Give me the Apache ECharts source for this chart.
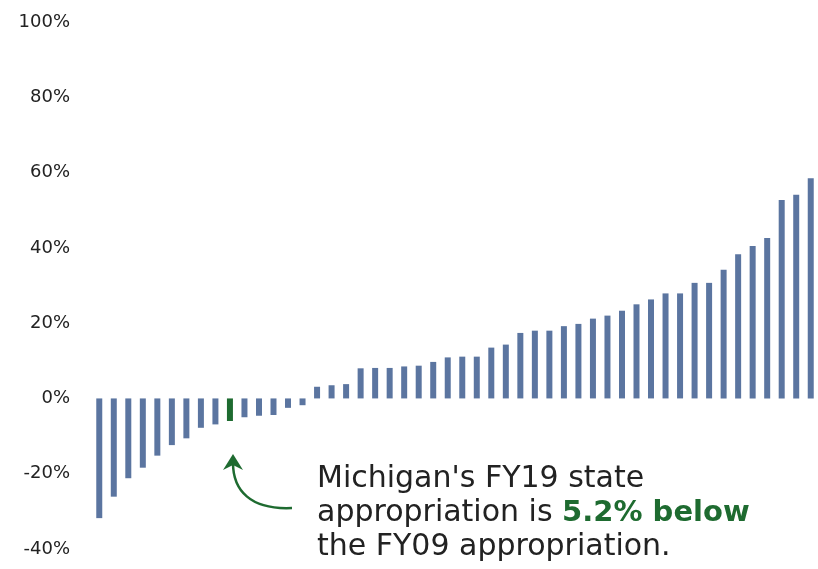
<!DOCTYPE html>
<html>
<head>
<meta charset="utf-8">
<script src="https://cdn.jsdelivr.net/npm/echarts@6/dist/echarts.min.js"></script>
<style>
  html, body { margin: 0; padding: 0; background: #fff; }
  #chart { width: 818px; height: 569px; }
</style>
</head>
<body>
<div id="chart"></div>
<script>
// change in state appropriation FY09 -> FY19, states sorted low to high
const values = [
  -31.8, -26.1, -21.2, -18.4, -15.2, -12.4, -10.6, -7.8, -6.9, -6.0,
  -5.0, -4.6, -4.4, -2.5, -1.8, 3.1, 3.5, 3.8, 8.0, 8.1,
  8.1, 8.5, 8.7, 9.7, 10.9, 11.1, 11.1, 13.5, 14.3, 17.4,
  18.0, 18.0, 19.2, 19.8, 21.2, 22.0, 23.3, 25.0, 26.3, 27.9,
  27.9, 30.7, 30.7, 34.2, 38.3, 40.5, 42.6, 52.7, 54.1, 58.5
];
const ranks = values.map((v, i) => String(i + 1));
const michiganIndex = 9;
const yTicks = [-40, -20, 0, 20, 40, 60, 80, 100];

const font = '"Century Gothic", "DejaVu Sans", sans-serif';
const blue = "#5b75a0";
const green = "#1e6b30";

const chart = echarts.init(document.getElementById("chart"));

const option = {
  animation: false,
  grid: { left: 92, width: 732, top: 22, bottom: 20 },
  xAxis: {
    type: "category",
    data: ranks,
    axisLine: { show: false },
    axisTick: { show: false },
    axisLabel: { show: false }
  },
  yAxis: {
    type: "value",
    min: yTicks[0],
    max: yTicks[yTicks.length - 1],
    interval: 20,
    splitLine: { show: false },
    axisLine: { show: false },
    axisTick: { show: false },
    axisLabel: {
      margin: 22,
      formatter: "{value}%",
      color: "#222",
      fontSize: 18,
      fontFamily: font
    }
  },
  series: [{
    type: "bar",
    barWidth: 6,
    data: values.map((v, i) => ({
      value: v,
      itemStyle: { color: i === michiganIndex ? green : blue }
    }))
  }],
  graphic: [
    {
      type: "text",
      left: 317,
      top: 462,
      style: {
        text: "Michigan's FY19 state\nappropriation is {g|5.2% below}\nthe FY09 appropriation.",
        fontSize: 30,
        lineHeight: 34,
        fontFamily: font,
        fill: "#222",
        rich: {
          g: { fill: green, fontWeight: "bold", fontSize: 29, fontFamily: font }
        }
      }
    },
    {
      type: "bezierCurve",
      shape: { x1: 292, y1: 508, cpx1: 250, cpy1: 510, cpx2: 233, cpy2: 490, x2: 233, y2: 463 },
      style: { stroke: green, lineWidth: 2.5, fill: null }
    },
    {
      type: "polygon",
      shape: { points: [[233, 454], [223, 470], [233, 465], [243, 470]] },
      style: { fill: green }
    }
  ]
};

chart.setOption(option);
</script>
</body>
</html>
